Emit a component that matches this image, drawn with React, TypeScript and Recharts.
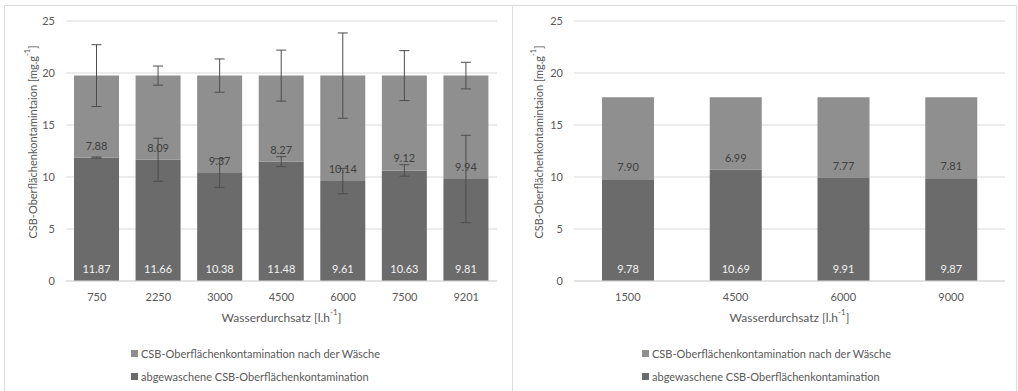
import React from 'react';
import { BarChart, Bar, XAxis, YAxis, CartesianGrid, ErrorBar, LabelList, Legend } from 'recharts';

const leftCategories = ['750', '2250', '3000', '4500', '6000', '7500', '9201'];
const leftWashed = [11.87, 11.66, 10.38, 11.48, 9.61, 10.63, 9.81];
const leftAfter = [7.88, 8.09, 9.37, 8.27, 10.14, 9.12, 9.94];
const leftWashedErr = [0.05, 2.07, 1.38, 0.48, 1.22, 0.55, 4.2];
const leftAfterErr = [2.97, 0.92, 1.6, 2.45, 4.1, 2.4, 1.28];

const rightCategories = ['1500', '4500', '6000', '9000'];
const rightWashed = [9.78, 10.69, 9.91, 9.87];
const rightAfter = [7.9, 6.99, 7.77, 7.81];

const yTicks = [0, 5, 10, 15, 20, 25];

const seriesAfterName = 'CSB-Oberflächenkontamination nach der Wäsche';
const seriesWashedName = 'abgewaschene CSB-Oberflächenkontamination';

const FONT = 'Lato, "Open Sans", sans-serif';
const COLOR_AFTER = '#8f8f8f';
const COLOR_WASHED = '#6b6b6b';
const TEXT = '#595959';
const GRID = '#d9d9d9';

const leftData = leftCategories.map((c, i) => ({
  cat: c,
  washed: leftWashed[i],
  after: leftAfter[i],
  washedErr: leftWashedErr[i],
  afterErr: leftAfterErr[i],
}));

const rightData = rightCategories.map((c, i) => ({
  cat: c,
  washed: rightWashed[i],
  after: rightAfter[i],
}));

const makeYTitle = (dx: number) => (props: any) => {
  const { viewBox } = props;
  const cx = viewBox.x + dx;
  const cy = viewBox.y + viewBox.height / 2 - 9;
  return (
    <text x={cx} y={cy} transform={`rotate(-90 ${cx} ${cy})`} textAnchor="middle" dominantBaseline="central" fill={TEXT} fontSize={11} fontFamily={FONT}>
      CSB-Oberflächenkontamintaion [mg.g<tspan dy={-5} fontSize={7.5}>-1</tspan><tspan dy={5}>]</tspan>
    </text>
  );
};

const XTitle = (props: any) => {
  const { viewBox } = props;
  const cx = viewBox.x + viewBox.width / 2;
  const cy = viewBox.y + 36;
  return (
    <text x={cx} y={cy} textAnchor="middle" dominantBaseline="central" fill={TEXT} fontSize={12} fontFamily={FONT}>
      Wasserdurchsatz [l.h<tspan dy={-5} fontSize={8}>-1</tspan><tspan dy={5}>]</tspan>
    </text>
  );
};

const LegendContent = () => (
  <div style={{ fontFamily: FONT, fontSize: 11, color: TEXT, lineHeight: '23px', height: 46 }}>
    {[{ n: seriesAfterName, c: COLOR_AFTER }, { n: seriesWashedName, c: COLOR_WASHED }].map((it) => (
      <div key={it.n} style={{ display: 'flex', alignItems: 'center', whiteSpace: 'nowrap' }}>
        <span style={{ display: 'inline-block', width: 7, height: 7, background: it.c, marginRight: 3 }} />
        {it.n}
      </div>
    ))}
  </div>
);

const fmt = (v: any) => Number(v).toFixed(2);

function Panel({ data, width, yAxisWidth, errors, legendLeft, barSize, titleDx }: any) {
  const YTitle = makeYTitle(titleDx);
  return (
    <BarChart
      width={width}
      height={391}
      data={data}
      margin={{ top: 21, right: 13, left: 0, bottom: 3 }}
      barSize={barSize}
    >
      <CartesianGrid vertical={false} stroke={GRID} />
      <XAxis
        dataKey="cat"
        height={61}
        tickLine={false}
        axisLine={{ stroke: GRID }}
        tick={{ fill: TEXT, fontSize: 11, fontFamily: FONT }}
        tickMargin={6}
        label={<XTitle />}
      />
      <YAxis
        width={yAxisWidth}
        domain={[0, 25]}
        ticks={yTicks}
        tickLine={false}
        axisLine={false}
        tick={{ fill: TEXT, fontSize: 11, fontFamily: FONT }}
        tickMargin={5}
        label={<YTitle />}
      />
      <Legend
        verticalAlign="bottom"
        align="center"
        layout="horizontal"
        height={46}
        content={<LegendContent />}
        wrapperStyle={{ left: legendLeft, bottom: 3, width: 300 }}
      />
      <Bar dataKey="washed" name={seriesWashedName} stackId="a" fill={COLOR_WASHED} isAnimationActive={false}>
        {errors && <ErrorBar dataKey="washedErr" width={5} stroke="#4d4d4d" strokeWidth={1} />}
        <LabelList dataKey="washed" position="insideBottom" offset={8} formatter={fmt} fill="#f2f2f2" fontSize={11} fontFamily={FONT} />
      </Bar>
      <Bar dataKey="after" name={seriesAfterName} stackId="a" fill={COLOR_AFTER} isAnimationActive={false}>
        {errors && <ErrorBar dataKey="afterErr" width={5} stroke="#4d4d4d" strokeWidth={1} />}
        <LabelList dataKey="after" position="insideBottom" offset={8} formatter={fmt} fill="#404040" fontSize={11} fontFamily={FONT} />
      </Bar>
    </BarChart>
  );
}

export default function App() {
  return (
    <div style={{ position: 'absolute', left: 0, top: 0, width: 1018, height: 391, background: '#fff', overflow: 'hidden' }}>
      <div style={{ position: 'absolute', left: 4, top: 5, width: 1013, height: 400, border: '1px solid #dcdcdc', boxSizing: 'border-box' }} />
      <div style={{ position: 'absolute', left: 512, top: 5, width: 1, height: 400, background: '#dcdcdc' }} />
      <div style={{ position: 'absolute', left: 0, top: 0 }}>
        <Panel data={leftData} width={510} yAxisWidth={66} errors legendLeft={131} barSize={45} titleDx={32} />
      </div>
      <div style={{ position: 'absolute', left: 512, top: 0 }}>
        <Panel data={rightData} width={506} yAxisWidth={62} errors={false} legendLeft={130} barSize={52} titleDx={26} />
      </div>
    </div>
  );
}
